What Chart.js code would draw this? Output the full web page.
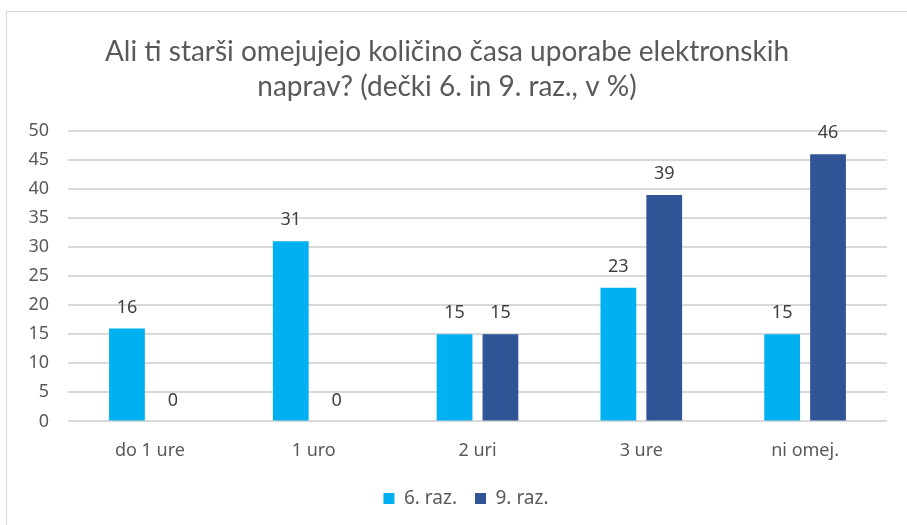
<!DOCTYPE html>
<html>
<head>
<meta charset="utf-8">
<script src="https://cdn.jsdelivr.net/npm/chart.js@4"></script>
<style>
    html, body { margin: 0; padding: 0; background: #fff; overflow: hidden; }
    #frame {
        position: absolute; left: 6px; top: 11px;
        width: 906px; height: 520px;
        border: 1px solid #d9d9d9; box-sizing: border-box;
    }
    #wrap { position: absolute; left: 7px; top: 12px; width: 906px; height: 513px; }
</style>
</head>
<body>
<div id="frame"></div>
<div id="wrap"><canvas id="chart"></canvas></div>
<script>
// Data
const categories = ['do 1 ure', '1 uro', '2 uri', '3 ure', 'ni omej.'];
const grade6 = [16, 31, 15, 23, 15];
const grade9 = [0, 0, 15, 39, 46];
const seriesNames = ['6. raz.', '9. raz.'];
const yTicks = [0, 5, 10, 15, 20, 25, 30, 35, 40, 45, 50];

const textGrey = '#595959';
const labelFont = 'Noto Sans';

// Value labels above the bars
const barLabels = {
    id: 'barLabels',
    afterDatasetsDraw(chart) {
        const ctx = chart.ctx;
        ctx.save();
        ctx.font = '18px "' + labelFont + '"';
        ctx.fillStyle = '#404040';
        ctx.textAlign = 'center';
        ctx.textBaseline = 'middle';
        chart.data.datasets.forEach((ds, i) => {
            chart.getDatasetMeta(i).data.forEach((bar, j) => {
                ctx.fillText(ds.data[j], bar.x, bar.y - 21);
            });
        });
        ctx.restore();
    }
};

// Excel puts the legend a bit right of the canvas centre
const legendShift = {
    id: 'legendShift',
    afterLayout(chart) {
        const lg = chart.legend;
        lg.left += 19;
        lg.right += 19;
        lg.top -= 2;
        lg.bottom -= 2;
    }
};

const ctx = document.getElementById('chart');
new Chart(ctx, {
    type: 'bar',
    data: {
        labels: categories,
        datasets: [{
            label: seriesNames[0],
            data: grade6,
            backgroundColor: '#00B0F0'
        }, {
            label: seriesNames[1],
            data: grade9,
            backgroundColor: '#2F5597'
        }]
    },
    options: {
        responsive: true,
        maintainAspectRatio: false,
        animation: false,
        datasets: {
            bar: { categoryPercentage: 0.56, barPercentage: 0.78 }
        },
        layout: { padding: { left: 0, right: 26, top: 0, bottom: 5 } },
        plugins: {
            title: {
                display: true,
                text: ['Ali ti starši omejujejo količino časa uporabe elektronskih', 'naprav? (dečki 6. in 9. raz., v %)'],
                color: textGrey,
                font: { family: 'Lato', size: 28, weight: 'normal', lineHeight: 1.25 },
                padding: { top: 22, bottom: 27 }
            },
            legend: {
                position: 'bottom',
                labels: {
                    color: textGrey,
                    font: { family: labelFont, size: 19 },
                    boxWidth: 11,
                    boxHeight: 11,
                    padding: 18
                }
            },
            tooltip: { enabled: false }
        },
        scales: {
            x: {
                grid: { display: false },
                border: { display: false },
                ticks: { color: textGrey, font: { family: labelFont, size: 18 }, padding: 11 }
            },
            y: {
                min: 0,
                max: 50,
                afterBuildTicks: axis => { axis.ticks = yTicks.map(v => ({ value: v })); },
                afterFit: axis => { axis.width = 61; },
                grid: { color: '#d9d9d9', lineWidth: 2, drawTicks: false },
                border: { display: false },
                ticks: { color: textGrey, font: { family: labelFont, size: 18 }, padding: 19 }
            }
        }
    },
    plugins: [barLabels, legendShift]
});
</script>
</body>
</html>
